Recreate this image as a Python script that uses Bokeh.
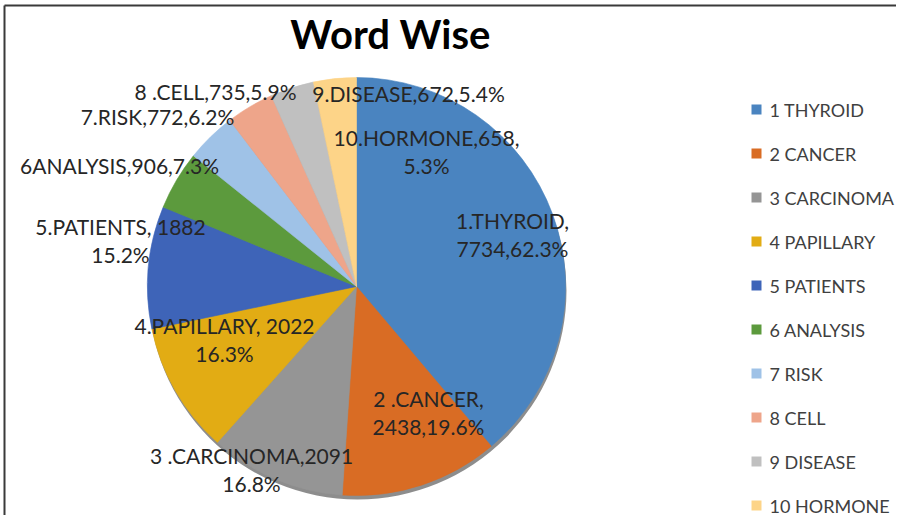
import math
from bokeh.plotting import figure
from bokeh.models import Range1d, ColumnDataSource
from bokeh.core.properties import value
from bokeh.embed import file_html
from bokeh.resources import INLINE

# ---- data ----
categories = ["1 THYROID", "2 CANCER", "3 CARCINOMA", "4 PAPILLARY", "5 PATIENTS",
              "6 ANALYSIS", "7 RISK", "8 CELL", "9 DISEASE", "10 HORMONE"]
counts = [7734, 2438, 2091, 2022, 1882, 906, 772, 735, 672, 658]
label_texts = [
    "1.THYROID,\n7734,62.3%",
    "2 .CANCER,\n2438,19.6%",
    "3 .CARCINOMA,2091\n16.8%",
    "4.PAPILLARY, 2022\n16.3%",
    "5.PATIENTS, 1882\n15.2%",
    "6ANALYSIS,906,7.3%",
    "7.RISK,772,6.2%",
    "8 .CELL,735,5.9%",
    "9.DISEASE,672,5.4%",
    "10.HORMONE,658,\n5.3%",
]
colors = ["#4A84C0", "#D96C24", "#959595", "#E2AC14", "#3E64B8",
          "#5C9A3D", "#9FC2E7", "#EEA58A", "#C0C0C0", "#FDD488"]

# ---- layout (figure pixels, y measured downward from the top) ----
W, H = 896, 515
def px(X):
    return X
def py(Y):
    return H - Y

cx, cy, R = px(356), py(286), 209
label_pos = [(512, 220), (428, 398), (251, 455), (224, 325), (120, 226),
             (119, 165), (157, 116), (215, 91), (408, 93), (426, 137)]
line_gap = 28

p = figure(width=W, height=H, output_backend="svg", toolbar_location=None,
           x_range=Range1d(0, W), y_range=Range1d(0, H), min_border=0,
           background_fill_color="white", border_fill_color="white")
p.axis.visible = False
p.grid.visible = False
p.outline_line_color = None

# frame (left and top edges)
p.segment(x0=[4, 4], y0=[0, py(5)], x1=[4, W], y1=[py(5), py(5)],
          line_color="#3a3a3a", line_width=2)

# pie
total = sum(counts)
starts, ends = [], []
acc = 0.0
for c in counts:
    starts.append(math.pi / 2 - 2 * math.pi * acc / total)
    acc += c
    ends.append(math.pi / 2 - 2 * math.pi * acc / total)

# soft shadow under the pie
p.circle(x=[cx + 1], y=[cy - 4], radius=R, fill_color="#303030", fill_alpha=0.55,
         line_color=None)

src = ColumnDataSource(dict(start=starts, end=ends, color=colors, name=categories))
p.wedge(x=cx, y=cy, radius=R, start_angle="start", end_angle="end",
        direction="clock", fill_color="color", line_color="color",
        line_width=0.6, source=src)

# data labels
lx, ly, lt = [], [], []
for (X, Y), t in zip(label_pos, label_texts):
    for k, line in enumerate(t.split("\n")):
        lx.append(px(X))
        ly.append(py(Y + k * line_gap))
        lt.append(line)
p.text(x=lx, y=ly, text=lt, text_align="center", text_baseline="middle",
       text_font=value("Lato"), text_font_size="21px", text_color="#262626")

# title
p.text(x=[px(390)], y=[py(33)], text=["Word Wise"], text_align="center",
       text_baseline="middle", text_font=value("Lato"), text_font_size="40px",
       text_font_style="bold", text_color="black")

# legend
leg_top, leg_gap = 109, 44
leg_y = [py(leg_top + i * leg_gap) for i in range(len(categories))]
p.rect(x=[px(756)] * len(categories), y=leg_y, width=10, height=10,
       fill_color=colors, line_color=None)
p.text(x=[px(769)] * len(categories), y=leg_y, text=categories, text_align="left",
       text_baseline="middle", text_font=value("Lato"), text_font_size="18px",
       text_color="#404040")

open("out.html", "w").write(file_html(p, INLINE))
